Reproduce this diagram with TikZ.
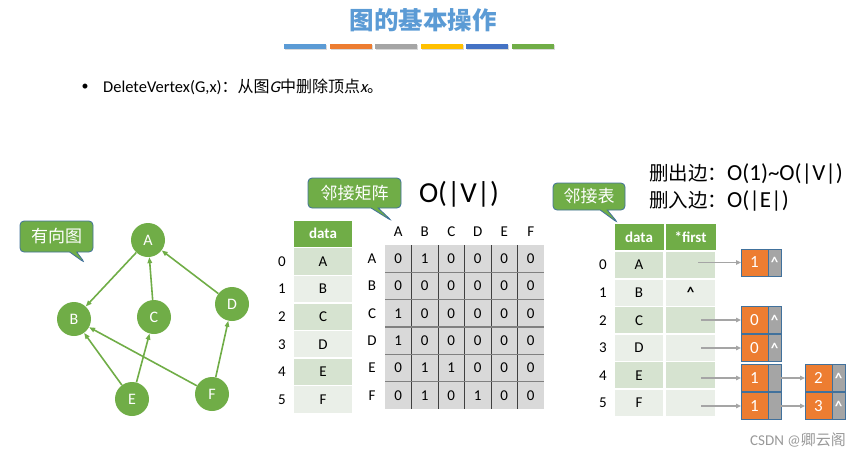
\documentclass[tikz,border=0pt]{standalone}
\usepackage{fontspec}
\setmainfont{Carlito}
\newfontfamily\cjk{Noto Sans CJK SC}
\newfontface\slantcarlito{Carlito}[FakeSlant=0.22]
\usepackage{tikz}
\usetikzlibrary{arrows.meta,positioning,shapes.callouts}
\definecolor{titleblue}{HTML}{5B9BD5}
\definecolor{barorange}{HTML}{ED7D31}
\definecolor{bargray}{HTML}{A5A5A5}
\definecolor{baryellow}{HTML}{FFC000}
\definecolor{barblue}{HTML}{4472C4}
\definecolor{vgreen}{HTML}{70AD47}
\definecolor{rowdark}{HTML}{D6E3D0}
\definecolor{rowlight}{HTML}{EAEFE8}
\definecolor{matgray}{HTML}{D9D9D9}
\definecolor{cellblue}{HTML}{41719C}

\tikzset{
  vertex/.style={circle,fill=vgreen,minimum size=34pt,inner sep=0pt,text=white,
                 font=\fontsize{16}{16}\selectfont},
  edgeline/.style={draw=vgreen,line width=1.6pt,-{Triangle[length=6pt,width=4.5pt]}},
  bubble/.style={rectangle callout,rounded corners=4pt,draw=cellblue,fill=vgreen,
                 line width=0.8pt,text=white,inner sep=0pt,font=\cjk\fontsize{17}{17}\selectfont},
  hdr/.style={fill=vgreen,text=white,inner sep=0pt,minimum height=26pt,
              font=\bfseries\fontsize{15}{15}\selectfont},
  tcell/.style={draw=white,line width=1.5pt,inner sep=0pt,minimum height=27.6pt,
                font=\fontsize{15}{15}\selectfont},
  lbl/.style={inner sep=0pt,font=\fontsize{15}{15}\selectfont},
  listval/.style={draw=cellblue,fill=barorange,line width=0.8pt,outer sep=0pt,inner sep=0pt,
                  minimum width=27pt,minimum height=27pt,text=white,font=\fontsize{17}{17}\selectfont},
  listnext/.style={draw=cellblue,fill=bargray,line width=0.8pt,outer sep=0pt,inner sep=0pt,
                   minimum width=13pt,minimum height=27pt,text=white,font=\bfseries\fontsize{15}{15}\selectfont},
  ptr/.style={draw=bargray,line width=1.3pt,-{Triangle[length=5pt,width=4.5pt]}}
}

\begin{document}
\begin{tikzpicture}[x=1pt,y=-1pt]
  \useasboundingbox (0,0) rectangle (862,456);
  % title and colour bars
  \node[font=\cjk\bfseries\fontsize{24.5}{25}\selectfont,text=titleblue] (title) at (423,20.5) {图的基本操作};
  \foreach \i/\c in {0/titleblue,1/barorange,2/bargray,3/baryellow,4/barblue,5/vgreen} {
    \fill[black!15] (285+\i*45.5,45) rectangle ++(42,5);
    \fill[\c] (284+\i*45.5,44) rectangle ++(42,5);
  }
  \node[lbl,font=\fontsize{14}{14}\selectfont] (dot) at (85,87) {\textbullet};
  \node[lbl,anchor=west,font=\fontsize{16.5}{17}\selectfont] (op) at (103,87)
    {DeleteVertex(G,x){\cjk\fontsize{16}{16}\selectfont ：从图}{\slantcarlito G}{\cjk\fontsize{16}{16}\selectfont 中删除顶点}{\slantcarlito x}{\cjk\fontsize{16}{16}\selectfont 。}};

  % directed graph
  \foreach \n/\x/\y in {A/148/240,B/74/319,C/154/317,D/232/304,E/132/399,F/212/394}
    \node[vertex] (\n) at (\x,\y) {\n};
  \foreach \s/\t in {A/B,C/A,D/A,E/B,E/C,F/B,F/D}
    \draw[edgeline] (\s) -- (\t);
  \node[bubble,minimum width=73pt,minimum height=31pt,callout absolute pointer={(85,263)}]
    (dirtag) at (56.5,236.5) {有向图};

  % adjacency matrix
  \node[bubble,minimum width=93pt,minimum height=30pt,callout absolute pointer={(392,221)}]
    (mattag) at (354.5,193) {邻接矩阵};
  \node[inner sep=0pt,font=\fontsize{29}{29}\selectfont] (cost) at (459,194) {O(|V|)};
  \node[hdr,minimum width=58pt] (vdata) at (323,233.5) {data};
  \foreach \v/\c [count=\i from 0] in {A/rowdark,B/rowlight,C/rowdark,D/rowlight,E/rowdark,F/rowlight} {
    \node[lbl] (vi\i) at (282,261.5+27.6*\i) {\i};
    \node[tcell,fill=\c,minimum width=59pt] (v\v) at (323,261.5+27.6*\i) {\v};
  }
  \fill[matgray] (385,245) rectangle (544,409);
  \foreach \j in {1,...,5}
    \draw[black!75,line width=1pt] (385+26.5*\j,245) -- (385+26.5*\j,409);
  \foreach \i in {1,...,5}
    \draw[black!50,line width=1.6pt] (385,245+27.33*\i) -- (544,245+27.33*\i);
  \foreach \c [count=\j from 0] in {A,B,C,D,E,F}
    \node[lbl] (col\c) at (398.25+26.5*\j,232) {\c};
  \foreach \r/\vals [count=\i from 0] in {A/{0,1,0,0,0,0},B/{0,0,0,0,0,0},C/{1,0,0,0,0,0},
                                         D/{1,0,0,0,0,0},E/{0,1,1,0,0,0},F/{0,1,0,1,0,0}} {
    \node[lbl] (row\r) at (372,258.7+27.33*\i) {\r};
    \foreach \v [count=\j from 0] in \vals
      \node[lbl] (m\r\j) at (398.25+26.5*\j,258.7+27.33*\i) {\v};
  }

  % adjacency list
  \node[bubble,minimum width=72pt,minimum height=27pt,callout absolute pointer={(618,223)}]
    (listtag) at (589,196.5) {邻接表};
  \node[lbl,anchor=west,font=\fontsize{23}{23}\selectfont] (outdel) at (649,174)
    {{\cjk\fontsize{19.5}{19.5}\selectfont 删出边：}O(1)\textasciitilde O(|V|)};
  \node[lbl,anchor=west,font=\fontsize{23}{23}\selectfont] (indel) at (649,201)
    {{\cjk\fontsize{19.5}{19.5}\selectfont 删入边：}O(|E|)};
  \node[hdr,minimum width=49pt] (adata) at (639,237) {data};
  \node[hdr,minimum width=50pt] (afirst) at (690.5,237) {*first};
  \foreach \v/\c [count=\i from 0] in {A/rowdark,B/rowlight,C/rowdark,D/rowlight,E/rowdark,F/rowlight} {
    \node[lbl] (ai\i) at (603,265+27.6*\i) {\i};
    \node[tcell,fill=\c,minimum width=49pt] (a\v) at (639,265+27.6*\i) {\v};
    \node[tcell,fill=\c,minimum width=51pt] (f\v) at (690.5,265+27.6*\i) {};
  }
  \node[lbl,font=\bfseries\fontsize{15}{15}\selectfont] (nilB) at (fB) {\textasciicircum};
  \foreach \r/\y/\v/\x/\g in {A/262.5/1/698/\textasciicircum,C/320/0/701/\textasciicircum,
                             D/348/0/701/\textasciicircum,E/378/1/701/{},F/406/1/701/{}} {
    \node[listval] (n\r) at (754.5,\y) {\v};
    \node[listnext,right=0pt of n\r] (g\r) {\g};
    \coordinate (p\r) at (\x,\y);
    \draw[ptr] (p\r) -- (n\r);
  }
  \foreach \r/\v in {E/2,F/3} {
    \node[listval,right=24pt of g\r] (s\r) {\v};
    \node[listnext,right=0pt of s\r] (t\r) {\textasciicircum};
    \draw[ptr] (g\r) -- (s\r);
  }

  \node[lbl,text=black!40] (mark) at (798,440) {CSDN @{\cjk 卿云阁}};
\end{tikzpicture}
\end{document}
